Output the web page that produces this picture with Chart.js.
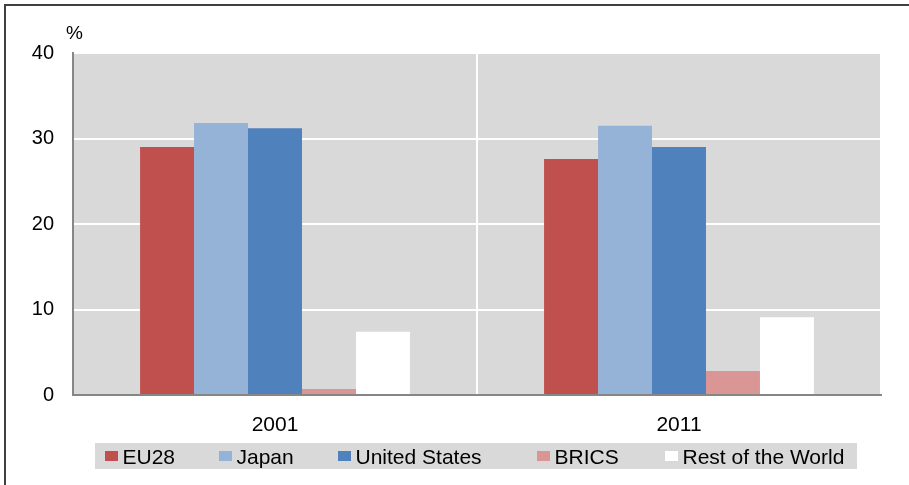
<!DOCTYPE html>
<html>
<head>
<meta charset="utf-8">
<script src="https://cdn.jsdelivr.net/npm/chart.js@4/dist/chart.umd.min.js"></script>
<style>
html,body{margin:0;padding:0;background:#fff;}
#wrap{width:909px;height:485px;position:relative;}
</style>
</head>
<body>
<div id="wrap"><canvas id="c" width="909" height="485"></canvas></div>
<script>
const categories = ["2001", "2011"];
const seriesNames = ["EU28", "Japan", "United States", "BRICS", "Rest of the World"];
const eu28 = [29.0, 27.6];
const japan = [31.8, 31.5];
const unitedStates = [31.2, 29.0];
const brics = [0.7, 2.8];
const restOfWorld = [7.4, 9.1];
const yTicks = [0, 10, 20, 30, 40];
const colors = ["#c0504d", "#95b3d7", "#4f81bd", "#da9694", "#ffffff"];

const FONT = "'Liberation Sans', Arial, sans-serif";

const bgPlugin = {
  id: 'bg',
  beforeDraw(chart) {
    const ctx = chart.ctx, a = chart.chartArea;
    ctx.save();
    ctx.fillStyle = '#fff';
    ctx.fillRect(0, 0, chart.width, chart.height);
    ctx.strokeStyle = '#404040';
    ctx.lineWidth = 2;
    ctx.beginPath();
    ctx.moveTo(5, 490); ctx.lineTo(5, 5); ctx.lineTo(915, 5);
    ctx.stroke();
    ctx.fillStyle = '#d9d9d9';
    ctx.fillRect(a.left, a.top, a.right - a.left, a.bottom - a.top);
    ctx.restore();
  },
  afterDraw(chart) {
    const ctx = chart.ctx;
    ctx.save();
    ctx.fillStyle = '#000';
    ctx.font = "19px " + FONT;
    ctx.textAlign = 'left';
    ctx.textBaseline = 'alphabetic';
    ctx.fillText('%', 66, 39);
    // legend
    ctx.fillStyle = '#d9d9d9';
    ctx.fillRect(95, 443, 762, 26);
    ctx.font = "21px " + FONT;
    const starts = [105, 219, 338, 537, 665];
    chart.data.datasets.forEach((ds, i) => {
      const x = starts[i];
      ctx.fillStyle = ds.backgroundColor;
      ctx.fillRect(x, 451, 13, 10);
      ctx.fillStyle = '#000';
      ctx.textBaseline = 'alphabetic';
      ctx.fillText(ds.label, x + 17.5, 463.5);
    });
    ctx.restore();
  }
};

const datasets = [eu28, japan, unitedStates, brics, restOfWorld].map((d, i) => ({
  label: seriesNames[i],
  data: d,
  backgroundColor: colors[i],
  borderWidth: 0,
  categoryPercentage: 0.668,
  barPercentage: 1.0
}));

new Chart(document.getElementById('c'), {
  type: 'bar',
  data: { labels: categories, datasets },
  options: {
    responsive: false,
    animation: false,
    devicePixelRatio: 1,
    layout: { padding: { left: 0, top: 53, right: 28, bottom: 0 } },
    plugins: { legend: { display: false }, tooltip: { enabled: false } },
    scales: {
      x: {
        grid: { color: '#ffffff', lineWidth: 2, offset: true, drawTicks: false },
        border: { color: '#868686', width: 2 },
        ticks: { color: '#000', font: { size: 21, family: FONT }, padding: 18 },
        afterFit(s) { s.height = 90; }
      },
      y: {
        min: 0, max: 40,
        afterBuildTicks(s) { s.ticks = yTicks.map(v => ({ value: v })); },
        grid: { color: '#ffffff', lineWidth: 2, drawTicks: false },
        border: { color: '#868686', width: 2 },
        ticks: { color: '#000', font: { size: 20, family: FONT }, padding: 19 },
        afterFit(s) { s.width = 73; }
      }
    }
  },
  plugins: [bgPlugin]
});
</script>
</body>
</html>
